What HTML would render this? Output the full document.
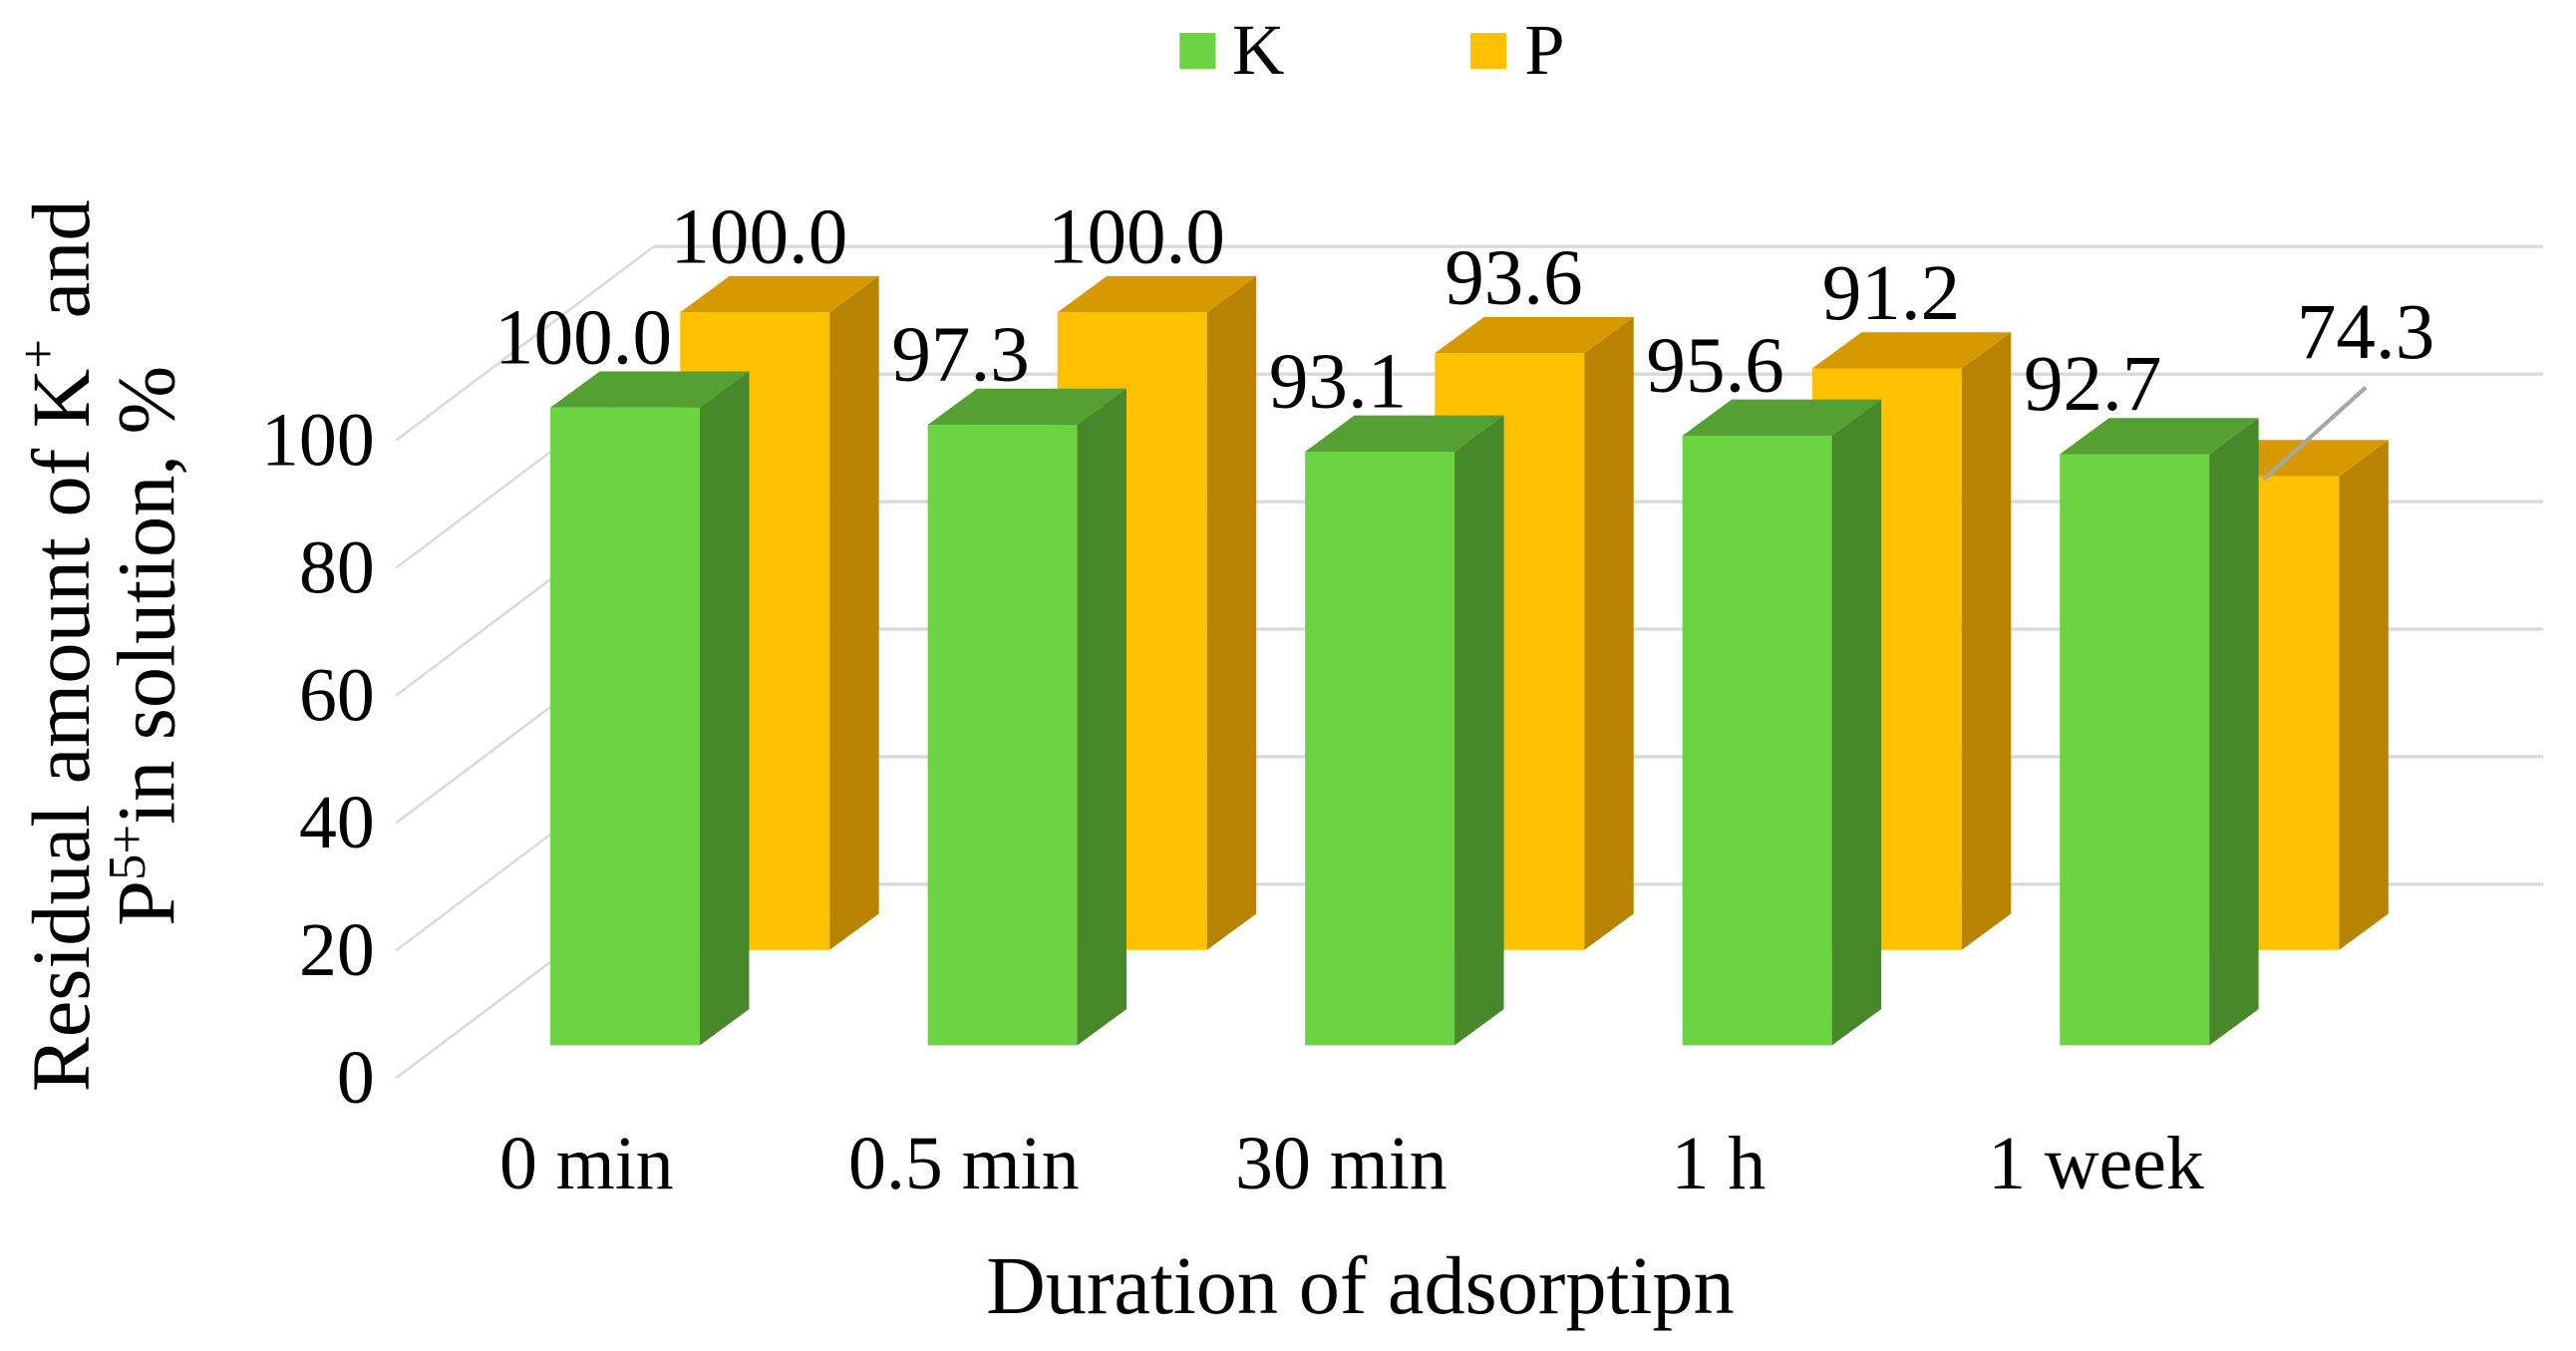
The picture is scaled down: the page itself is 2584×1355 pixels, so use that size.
<!DOCTYPE html>
<html><head><meta charset="utf-8"><style>
html,body{margin:0;padding:0;background:#fff;}
svg{display:block;}
text{font-family:"Liberation Serif",serif;fill:#000;}
</style></head><body>
<svg id="chart" width="2584" height="1355" viewBox="0 0 1568 822" preserveAspectRatio="none" xmlns="http://www.w3.org/2000/svg">
<g id="grid"></g>
<g id="bars"></g>
<g id="labels"></g>
<g>
  <rect x="718" y="20" width="22" height="22" fill="#6AD443"/>
  <text x="750" y="45" font-size="44">K</text>
  <rect x="895" y="20" width="22" height="22" fill="#FFC000"/>
  <text x="928" y="45" font-size="44">P</text>
</g>
<text x="828" y="799" font-size="50" text-anchor="middle">Duration of adsorptipn</text>
<g transform="translate(0,393) rotate(-90)">
  <text x="0" y="54" font-size="50" text-anchor="middle">Residual amount of K<tspan font-size="32" dy="-20">+</tspan><tspan dy="20"> and</tspan></text>
  <text x="0" y="106" font-size="50" text-anchor="middle">P<tspan font-size="32" dy="-18">5+</tspan><tspan dy="18">in solution, %</tspan></text>
</g>
</svg>
<script>
const categories = ["0 min","0.5 min","30 min","1 h","1 week"];
const kValues = [100.0, 97.3, 93.1, 95.6, 92.7];
const pValues = [100.0, 100.0, 93.6, 91.2, 74.3];
const yTicks = [0,20,40,60,80,100];

const NS="http://www.w3.org/2000/svg";
function mk(tag, attrs, parent){const e=document.createElementNS(NS,tag);for(const k in attrs)e.setAttribute(k,attrs[k]);parent.appendChild(e);return e;}
const grid=document.getElementById('grid'), bars=document.getElementById('bars'), labels=document.getElementById('labels');
const unit=3.88;
function yFront(v){return 636 - v*unit;}
function yBackRow(v){return 578 - v*unit;}
function xK(i){return 335 + i*229.7;}
function xP(i){return 414 + i*229.7;}
function tickY(v){return 656 - v*3.88;}
yTicks.forEach(function(t){
  const y0=tickY(t);
  const d=mk('line',{x1:241,y1:y0,x2:398,y2:y0-118,stroke:'#d9d9d9','stroke-width':1.5},grid);
  
  
  const h=mk('line',{x1:398,y1:y0-118,x2:1548,y2:y0-118,stroke:'#d9d9d9','stroke-width':2},grid);
  
  
  const tl=mk('text',{x:228,y:y0+15,'font-size':46,'text-anchor':'end'},labels);
  tl.textContent=t;
  
  
});
const W=91, DX=30, DY=22;
function bar3d(x,base,top,front,side,topc,name){
  const g=mk('g',{},bars);
  
  
  mk('rect',{x:x,y:top,width:W,height:base-top,fill:front},g);
  mk('polygon',{points:`${x+W},${top} ${x+W+DX},${top-DY} ${x+W+DX},${base-DY} ${x+W},${base}`,fill:side},g);
  mk('polygon',{points:`${x},${top} ${x+DX},${top-DY} ${x+W+DX},${top-DY} ${x+W},${top}`,fill:topc},g);
}
categories.forEach(function(c,i){
  bar3d(xP(i),578,yBackRow(pValues[i]),'#FFC000','#B88400','#D69A00','bar-p-'+i);
});
categories.forEach(function(c,i){
  bar3d(xK(i),636,yFront(kValues[i]),'#6AD443','#46882A','#55A032','bar-k-'+i);
  const cl=mk('text',{x:xK(i)+22,y:723,'font-size':46,'text-anchor':'middle'},labels);
  cl.textContent=c;
  
  
  const kl=mk('text',{x:xK(i)+20,y:yFront(kValues[i])-27,'font-size':48,'text-anchor':'middle'},labels);
  kl.textContent=kValues[i].toFixed(1);
  
  
  let px=xP(i)+48, py=yBackRow(pValues[i])-30;
  if(i===categories.length-1){
    px=1440; py=yBackRow(pValues[i])-72;
    const ld=mk('line',{x1:1440,y1:py+18,x2:xP(i)+45,y2:yBackRow(pValues[i])+2,stroke:'#a6a6a6','stroke-width':2.5},labels);
    
    
  }
  const pl=mk('text',{x:px,y:py,'font-size':48,'text-anchor':'middle'},labels);
  pl.textContent=pValues[i].toFixed(1);
  
  
});
</script>
</body></html>
